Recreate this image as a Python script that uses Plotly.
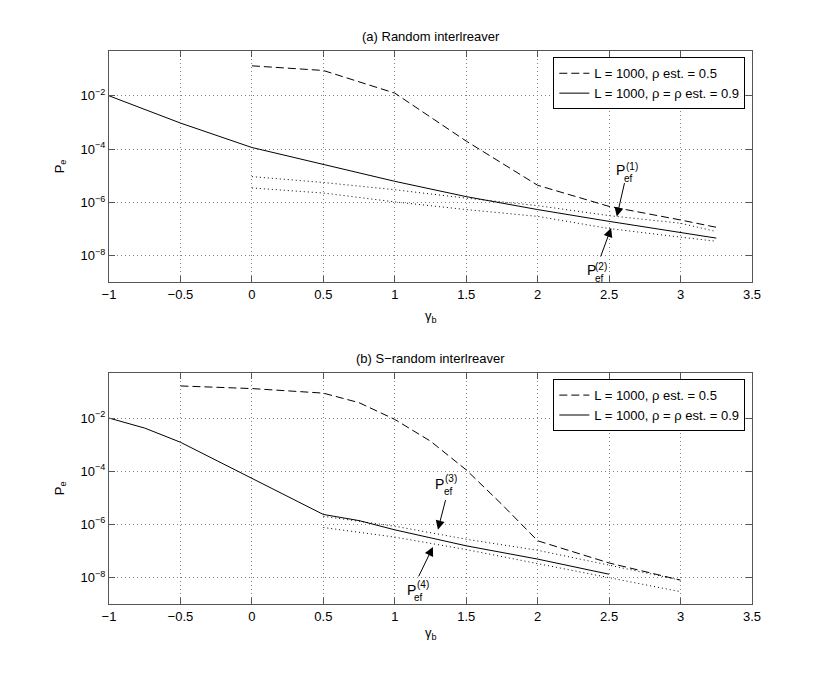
import plotly.graph_objects as go

# (a) Random interleaver
gamma_a_sim = [-1, -0.5, 0, 0.5, 1, 1.5, 2, 2.5, 3, 3.25]
pe_a_sim = [1.0e-2, 9.5e-4, 1.15e-4, 2.75e-5, 6.2e-6, 1.65e-6, 5.4e-7, 1.95e-7, 7.6e-8, 4.6e-8]

gamma_a_est = [0, 0.5, 1, 1.5, 2, 2.5, 3, 3.25]
pe_a_est = [0.133, 0.089, 0.0126, 2.0e-4, 4.4e-6, 7.1e-7, 2.2e-7, 1.17e-7]

gamma_a_bound = [0, 0.5, 1, 1.5, 2, 2.5, 3, 3.25]
pe_a_bound1 = [9.3e-6, 5.6e-6, 3.0e-6, 1.45e-6, 7.6e-7, 3.2e-7, 1.66e-7, 8.1e-8]
pe_a_bound2 = [3.5e-6, 2.25e-6, 1.05e-6, 5.4e-7, 3.0e-7, 1.05e-7, 5.0e-8, 3.5e-8]

# (b) S-random interleaver
gamma_b_sim = [-1, -0.75, -0.5, 0, 0.5, 0.75, 1, 1.5, 2, 2.5]
pe_b_sim = [1.0e-2, 4.2e-3, 1.23e-3, 5.2e-5, 2.35e-6, 1.38e-6, 6.2e-7, 1.55e-7, 4.9e-8, 1.32e-8]

gamma_b_est = [-0.5, 0, 0.5, 0.75, 1, 1.25, 1.5, 1.75, 2, 2.5, 3]
pe_b_est = [0.162, 0.129, 0.087, 0.038, 8.9e-3, 1.35e-3, 1.12e-4, 5.6e-6, 2.4e-7, 3.5e-8, 7.9e-9]

gamma_b_bound = [0.5, 1, 1.5, 2, 2.5, 3]
pe_b_bound3 = [2.0e-6, 8.5e-7, 2.75e-7, 1.05e-7, 2.9e-8, 7.9e-9]
pe_b_bound4 = [7.6e-7, 3.3e-7, 1.12e-7, 3.3e-8, 1.0e-8, 2.9e-9]

x_ticks = [-1, -0.5, 0, 0.5, 1, 1.5, 2, 2.5, 3, 3.5]
x_labels = ["\u22121", "\u22120.5", "0", "0.5", "1", "1.5", "2", "2.5", "3", "3.5"]
y_ticks = [1e-8, 1e-6, 1e-4, 1e-2]
y_labels = ["10<sup>\u22128</sup>", "10<sup>\u22126</sup>", "10<sup>\u22124</sup>", "10<sup>\u22122</sup>"]

legend_est = "L = 1000, \u03c1 est. = 0.5"
legend_sim = "L = 1000, \u03c1 = \u03c1 est. = 0.9"

FONT = "Liberation Sans, Arial, Helvetica, sans-serif"

fig = go.Figure()


def add_panel(xa, ya, leg, g_sim, p_sim, g_est, p_est, g_bnd, bounds):
    fig.add_trace(go.Scatter(x=g_est, y=p_est, mode="lines", name=legend_est,
                             line=dict(color="black", width=1, dash="8px,4px"),
                             xaxis=xa, yaxis=ya, legend=leg))
    fig.add_trace(go.Scatter(x=g_sim, y=p_sim, mode="lines", name=legend_sim,
                             line=dict(color="black", width=1),
                             xaxis=xa, yaxis=ya, legend=leg))
    for b in bounds:
        fig.add_trace(go.Scatter(x=g_bnd, y=b, mode="lines", showlegend=False,
                                 line=dict(color="black", width=1, dash="1px,3px"),
                                 xaxis=xa, yaxis=ya))


add_panel("x", "y", "legend", gamma_a_sim, pe_a_sim, gamma_a_est, pe_a_est,
          gamma_a_bound, [pe_a_bound1, pe_a_bound2])
add_panel("x2", "y2", "legend2", gamma_b_sim, pe_b_sim, gamma_b_est, pe_b_est,
          gamma_b_bound, [pe_b_bound3, pe_b_bound4])

xaxis_style = dict(range=[-1, 3.5], tickvals=x_ticks, ticktext=x_labels,
                   showgrid=True, griddash="1px,3px", gridcolor="#808080", gridwidth=1,
                   zeroline=False, showline=True, linecolor="#555", linewidth=1,
                   mirror="allticks", ticks="inside", ticklen=6, tickcolor="#555",
                   tickfont=dict(size=13, color="black", family=FONT))
yaxis_style = dict(type="log", range=[-9, -0.32], tickvals=y_ticks, ticktext=y_labels,
                   showgrid=True, griddash="1px,3px", gridcolor="#808080", gridwidth=1,
                   zeroline=False, showline=True, linecolor="#555", linewidth=1,
                   mirror="allticks", ticks="inside", ticklen=6, tickcolor="#555",
                   tickfont=dict(size=13, color="black", family=FONT))

legend_style = dict(xanchor="right", yanchor="top", bgcolor="white",
                    bordercolor="black", borderwidth=1,
                    font=dict(size=13, color="black", family=FONT),
                    tracegroupgap=0, itemwidth=30)

fig.update_layout(
    width=830, height=680,
    margin=dict(l=108.5, r=78.3, t=51, b=76.3),
    paper_bgcolor="white", plot_bgcolor="white",
    font=dict(family=FONT, color="black", size=13),
    xaxis=dict(xaxis_style, domain=[0, 1], anchor="y"),
    yaxis=dict(yaxis_style, domain=[0.5815, 1], anchor="x"),
    xaxis2=dict(xaxis_style, domain=[0, 1], anchor="y2"),
    yaxis2=dict(yaxis_style, domain=[0, 0.4169], anchor="x2"),
    legend=dict(legend_style, x=0.9896, y=0.9886),
    legend2=dict(legend_style, x=0.9896, y=0.4066),
)

# titles and axis labels
texts = [
    ("(a) Random interlreaver", 0.5, 1.0258, 0),
    ("(b) S\u2212random interlreaver", 0.5, 0.4445, 0),
    ("\u03b3<sub>b</sub>", 0.5, 0.5205, 0),
    ("\u03b3<sub>b</sub>", 0.5, -0.0536, 0),
    ("P<sub>e</sub>", -0.0754, 0.7906, -90),
    ("P<sub>e</sub>", -0.0754, 0.2084, -90),
]
for t, x, y, ang in texts:
    fig.add_annotation(text=t, x=x, y=y, xref="paper", yref="paper", showarrow=False,
                       textangle=ang, font=dict(size=13, color="black", family=FONT),
                       xanchor="center", yanchor="middle")

# arrows pointing at the bounds: (label, xref, yref, x, log10 y, ax, ay, offsets)
arrows = [
    ("(1)", "x", "y", 2.554, -6.53, 8, -35, (4, 47), (15, 50), (12, 38)),
    ("(2)", "x", "y", 2.514, -6.96, -11, 30, (-20, -42), (-10, -38), (-12, -50)),
    ("(3)", "x2", "y2", 1.302, -6.2, 8, -31, (2, 46), (13, 51), (11, 38)),
    ("(4)", "x2", "y2", 1.267, -6.85, -15, 31, (-21, -43), (-10, -38), (-14, -51)),
]
for sup, xr, yr, x, y, ax, ay, op, osup, osub in arrows:
    fig.add_annotation(x=x, y=y, xref=xr, yref=yr, ax=ax, ay=ay, text="",
                       showarrow=True, arrowhead=2, arrowsize=1.8, arrowwidth=1,
                       arrowcolor="black", standoff=0)
    for txt, off, size in [("P", op, 14), (sup, osup, 10), ("ef", osub, 10)]:
        fig.add_annotation(x=x, y=y, xref=xr, yref=yr, text=txt, showarrow=False,
                           xshift=off[0], yshift=off[1],
                           font=dict(size=size, color="black", family=FONT))

fig.write_html("out.html", config={"displayModeBar": False},
               post_script="document.body.style.margin='0';")
